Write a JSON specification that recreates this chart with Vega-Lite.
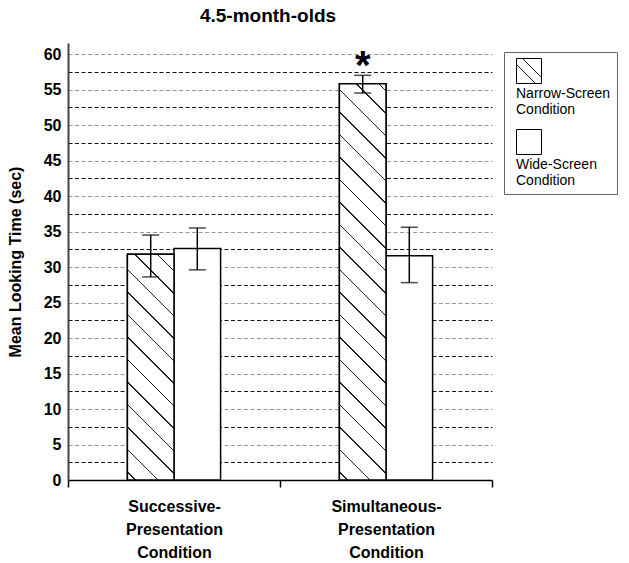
{
  "$schema": "https://vega.github.io/schema/vega-lite/v6.json",
  "width": 424,
  "height": 437,
  "autosize": {"type": "none"},
  "padding": {"left": 68, "top": 43, "right": 137, "bottom": 83},
  "title": {"text": "4.5-month-olds", "fontSize": 19, "fontWeight": "bold", "font": "Liberation Sans", "color": "black", "frame": "group", "anchor": "middle", "dx": -12, "offset": 17},
  "config": {"view": {"stroke": null}, "font": "Liberation Sans"},
  "data": {"values": [
    {"cond": "Successive-Presentation Condition", "screen": "Narrow-Screen Condition", "mean": 31.8, "lo": 28.6, "hi": 34.5},
    {"cond": "Successive-Presentation Condition", "screen": "Wide-Screen Condition", "mean": 32.6, "lo": 29.6, "hi": 35.5},
    {"cond": "Simultaneous-Presentation Condition", "screen": "Narrow-Screen Condition", "mean": 55.8, "lo": 54.5, "hi": 57.0, "sig": "*"},
    {"cond": "Simultaneous-Presentation Condition", "screen": "Wide-Screen Condition", "mean": 31.6, "lo": 27.8, "hi": 35.6}
  ]},
  "encoding": {
    "x": {"field": "cond", "type": "nominal", "title": null,
      "scale": {"domain": ["Successive-Presentation Condition", "Simultaneous-Presentation Condition"], "paddingInner": 0, "paddingOuter": 0},
      "axis": {"labelAngle": 0, "tickBand": "extent", "tickSize": 7, "tickWidth": 1.5, "tickColor": "black", "domainColor": "black", "domainWidth": 1.5, "labelFontSize": 16, "labelFontWeight": "bold", "labelColor": "black", "labelLineHeight": 23, "labelPadding": 11, "labelLimit": 300, "grid": false,
        "labelExpr": "split(replace(replace(datum.label, '-', '-|'), ' ', '|'), '|')"}},
    "xOffset": {"field": "screen", "type": "nominal",
      "scale": {"domain": ["_left", "Narrow-Screen Condition", "Wide-Screen Condition", "_right"], "paddingInner": 0, "paddingOuter": 0.275}}
  },
  "layer": [
    {
      "mark": {"type": "bar", "stroke": "black", "strokeWidth": 1.5},
      "encoding": {
        "y": {"field": "mean", "type": "quantitative", "title": "Mean Looking Time (sec)", "scale": {"domain": [0, 61.55], "nice": false},
          "axis": {"values": [0, 2.5, 5, 7.5, 10, 12.5, 15, 17.5, 20, 22.5, 25, 27.5, 30, 32.5, 35, 37.5, 40, 42.5, 45, 47.5, 50, 52.5, 55, 57.5, 60],
            "labelExpr": "datum.value % 5 === 0 ? datum.label : ''", "labelOverlap": false,
            "labelFontSize": 16, "labelFontWeight": "bold", "labelColor": "black", "tickSize": 0, "labelPadding": 7,
            "domainColor": "#444", "domainWidth": 2,
            "titleFontSize": 16, "titleFontWeight": "bold", "titleColor": "black", "titlePadding": 20,
            "grid": true, "gridDash": [4, 2.5], "gridWidth": 1,
            "gridColor": {"condition": {"test": "datum.value % 5 === 0", "value": "#999999"}, "value": "#111111"}}},
        "fill": {"field": "screen", "type": "nominal",
          "scale": {"domain": ["Narrow-Screen Condition", "Wide-Screen Condition"],
            "range": [
              {"expr": "{gradient: 'linear', x1: 0, y1: 1, x2: 1, y2: 0, stops: [{offset: 0, color: 'white'}, {offset: 0.366, color: 'white'}, {offset: 0.366, color: '#222'}, {offset: 0.394, color: '#222'}, {offset: 0.394, color: 'white'}, {offset: 0.606, color: 'white'}, {offset: 0.606, color: '#222'}, {offset: 0.634, color: '#222'}, {offset: 0.634, color: 'white'}, {offset: 1, color: 'white'}]}"},
              "white"]},
          "legend": {"title": null, "orient": "none", "legendX": 436, "legendY": 9, "strokeColor": "#666", "fillColor": "white", "padding": 6, "symbolOffset": 6,
            "symbolType": "square", "symbolSize": 625, "symbolStrokeColor": "black", "symbolStrokeWidth": 1, "rowPadding": 10,
            "labelFont": "Liberation Sans", "labelFontSize": 14, "labelColor": "black", "labelBaseline": "top", "labelAlign": "left", "labelOffset": -26, "labelLimit": 200,
            "labelExpr": "['', split(datum.label, ' ')[0], split(datum.label, ' ')[1]]",
            "encode": {"symbols": {"update": {
              "opacity": {"value": 1},
              "stroke": {"value": "black"},
              "strokeWidth": {"value": 1}}}}}}
      }
    },
    {
      "transform": [{"filter": "datum.cond === 'Successive-Presentation Condition' && datum.screen === 'Narrow-Screen Condition'"}],
      "mark": {"type": "bar", "stroke": "black", "strokeWidth": 1.5,
        "fill": {"gradient": "linear", "x1": 0, "y1": 1, "x2": 0.2388, "y2": -0.1573, "stops": [
          {"offset": 0, "color": "white"},
          {"offset": 0.0264, "color": "white"}, {"offset": 0.0264, "color": "#222"}, {"offset": 0.0323, "color": "#222"}, {"offset": 0.0323, "color": "white"},
          {"offset": 0.1090, "color": "white"}, {"offset": 0.1090, "color": "#222"}, {"offset": 0.1149, "color": "#222"}, {"offset": 0.1149, "color": "white"},
          {"offset": 0.1916, "color": "white"}, {"offset": 0.1916, "color": "#222"}, {"offset": 0.1975, "color": "#222"}, {"offset": 0.1975, "color": "white"},
          {"offset": 0.2742, "color": "white"}, {"offset": 0.2742, "color": "#222"}, {"offset": 0.2801, "color": "#222"}, {"offset": 0.2801, "color": "white"},
          {"offset": 0.3568, "color": "white"}, {"offset": 0.3568, "color": "#222"}, {"offset": 0.3627, "color": "#222"}, {"offset": 0.3627, "color": "white"},
          {"offset": 0.4394, "color": "white"}, {"offset": 0.4394, "color": "#222"}, {"offset": 0.4453, "color": "#222"}, {"offset": 0.4453, "color": "white"},
          {"offset": 0.5220, "color": "white"}, {"offset": 0.5220, "color": "#222"}, {"offset": 0.5279, "color": "#222"}, {"offset": 0.5279, "color": "white"},
          {"offset": 0.6046, "color": "white"}, {"offset": 0.6046, "color": "#222"}, {"offset": 0.6105, "color": "#222"}, {"offset": 0.6105, "color": "white"},
          {"offset": 0.6872, "color": "white"}, {"offset": 0.6872, "color": "#222"}, {"offset": 0.6931, "color": "#222"}, {"offset": 0.6931, "color": "white"},
          {"offset": 0.7698, "color": "white"}, {"offset": 0.7698, "color": "#222"}, {"offset": 0.7757, "color": "#222"}, {"offset": 0.7757, "color": "white"},
          {"offset": 0.8524, "color": "white"}, {"offset": 0.8524, "color": "#222"}, {"offset": 0.8583, "color": "#222"}, {"offset": 0.8583, "color": "white"},
          {"offset": 0.9350, "color": "white"}, {"offset": 0.9350, "color": "#222"}, {"offset": 0.9409, "color": "#222"}, {"offset": 0.9409, "color": "white"},
          {"offset": 1, "color": "white"}]}},
      "encoding": {"y": {"field": "mean", "type": "quantitative", "title": "Mean Looking Time (sec)", "scale": {"domain": [0, 61.55], "nice": false},
          "axis": {"values": [0, 2.5, 5, 7.5, 10, 12.5, 15, 17.5, 20, 22.5, 25, 27.5, 30, 32.5, 35, 37.5, 40, 42.5, 45, 47.5, 50, 52.5, 55, 57.5, 60],
            "labelExpr": "datum.value % 5 === 0 ? datum.label : ''", "labelOverlap": false,
            "labelFontSize": 16, "labelFontWeight": "bold", "labelColor": "black", "tickSize": 0, "labelPadding": 7,
            "domainColor": "#444", "domainWidth": 2,
            "titleFontSize": 16, "titleFontWeight": "bold", "titleColor": "black", "titlePadding": 20,
            "grid": true, "gridDash": [4, 2.5], "gridWidth": 1,
            "gridColor": {"condition": {"test": "datum.value % 5 === 0", "value": "#999999"}, "value": "#111111"}}}}
    },
    {
      "transform": [{"filter": "datum.cond === 'Simultaneous-Presentation Condition' && datum.screen === 'Narrow-Screen Condition'"}],
      "mark": {"type": "bar", "stroke": "black", "strokeWidth": 1.5,
        "fill": {"gradient": "linear", "x1": 0, "y1": 1, "x2": 0.12966, "y2": -0.10238, "stops": [
          {"offset": 0, "color": "white"},
          {"offset": 0.0163, "color": "white"}, {"offset": 0.0163, "color": "#222"}, {"offset": 0.0199, "color": "#222"}, {"offset": 0.0199, "color": "white"},
          {"offset": 0.0671, "color": "white"}, {"offset": 0.0671, "color": "#222"}, {"offset": 0.0707, "color": "#222"}, {"offset": 0.0707, "color": "white"},
          {"offset": 0.1179, "color": "white"}, {"offset": 0.1179, "color": "#222"}, {"offset": 0.1215, "color": "#222"}, {"offset": 0.1215, "color": "white"},
          {"offset": 0.1687, "color": "white"}, {"offset": 0.1687, "color": "#222"}, {"offset": 0.1723, "color": "#222"}, {"offset": 0.1723, "color": "white"},
          {"offset": 0.2195, "color": "white"}, {"offset": 0.2195, "color": "#222"}, {"offset": 0.2231, "color": "#222"}, {"offset": 0.2231, "color": "white"},
          {"offset": 0.2703, "color": "white"}, {"offset": 0.2703, "color": "#222"}, {"offset": 0.2739, "color": "#222"}, {"offset": 0.2739, "color": "white"},
          {"offset": 0.3212, "color": "white"}, {"offset": 0.3212, "color": "#222"}, {"offset": 0.3248, "color": "#222"}, {"offset": 0.3248, "color": "white"},
          {"offset": 0.3720, "color": "white"}, {"offset": 0.3720, "color": "#222"}, {"offset": 0.3756, "color": "#222"}, {"offset": 0.3756, "color": "white"},
          {"offset": 0.4228, "color": "white"}, {"offset": 0.4228, "color": "#222"}, {"offset": 0.4264, "color": "#222"}, {"offset": 0.4264, "color": "white"},
          {"offset": 0.4736, "color": "white"}, {"offset": 0.4736, "color": "#222"}, {"offset": 0.4772, "color": "#222"}, {"offset": 0.4772, "color": "white"},
          {"offset": 0.5244, "color": "white"}, {"offset": 0.5244, "color": "#222"}, {"offset": 0.5280, "color": "#222"}, {"offset": 0.5280, "color": "white"},
          {"offset": 0.5752, "color": "white"}, {"offset": 0.5752, "color": "#222"}, {"offset": 0.5788, "color": "#222"}, {"offset": 0.5788, "color": "white"},
          {"offset": 0.6260, "color": "white"}, {"offset": 0.6260, "color": "#222"}, {"offset": 0.6296, "color": "#222"}, {"offset": 0.6296, "color": "white"},
          {"offset": 0.6769, "color": "white"}, {"offset": 0.6769, "color": "#222"}, {"offset": 0.6805, "color": "#222"}, {"offset": 0.6805, "color": "white"},
          {"offset": 0.7277, "color": "white"}, {"offset": 0.7277, "color": "#222"}, {"offset": 0.7313, "color": "#222"}, {"offset": 0.7313, "color": "white"},
          {"offset": 0.7785, "color": "white"}, {"offset": 0.7785, "color": "#222"}, {"offset": 0.7821, "color": "#222"}, {"offset": 0.7821, "color": "white"},
          {"offset": 0.8293, "color": "white"}, {"offset": 0.8293, "color": "#222"}, {"offset": 0.8329, "color": "#222"}, {"offset": 0.8329, "color": "white"},
          {"offset": 0.8801, "color": "white"}, {"offset": 0.8801, "color": "#222"}, {"offset": 0.8837, "color": "#222"}, {"offset": 0.8837, "color": "white"},
          {"offset": 0.9309, "color": "white"}, {"offset": 0.9309, "color": "#222"}, {"offset": 0.9345, "color": "#222"}, {"offset": 0.9345, "color": "white"},
          {"offset": 0.9817, "color": "white"}, {"offset": 0.9817, "color": "#222"}, {"offset": 0.9853, "color": "#222"}, {"offset": 0.9853, "color": "white"},
          {"offset": 1, "color": "white"}]}},
      "encoding": {"y": {"field": "mean", "type": "quantitative", "title": "Mean Looking Time (sec)", "scale": {"domain": [0, 61.55], "nice": false},
          "axis": {"values": [0, 2.5, 5, 7.5, 10, 12.5, 15, 17.5, 20, 22.5, 25, 27.5, 30, 32.5, 35, 37.5, 40, 42.5, 45, 47.5, 50, 52.5, 55, 57.5, 60],
            "labelExpr": "datum.value % 5 === 0 ? datum.label : ''", "labelOverlap": false,
            "labelFontSize": 16, "labelFontWeight": "bold", "labelColor": "black", "tickSize": 0, "labelPadding": 7,
            "domainColor": "#444", "domainWidth": 2,
            "titleFontSize": 16, "titleFontWeight": "bold", "titleColor": "black", "titlePadding": 20,
            "grid": true, "gridDash": [4, 2.5], "gridWidth": 1,
            "gridColor": {"condition": {"test": "datum.value % 5 === 0", "value": "#999999"}, "value": "#111111"}}}}
    },
    {
      "mark": {"type": "rule", "strokeWidth": 1.5, "color": "black"},
      "encoding": {"y": {"field": "lo", "type": "quantitative", "title": "Mean Looking Time (sec)", "scale": {"domain": [0, 61.55], "nice": false},
          "axis": {"values": [0, 2.5, 5, 7.5, 10, 12.5, 15, 17.5, 20, 22.5, 25, 27.5, 30, 32.5, 35, 37.5, 40, 42.5, 45, 47.5, 50, 52.5, 55, 57.5, 60],
            "labelExpr": "datum.value % 5 === 0 ? datum.label : ''", "labelOverlap": false,
            "labelFontSize": 16, "labelFontWeight": "bold", "labelColor": "black", "tickSize": 0, "labelPadding": 7,
            "domainColor": "#444", "domainWidth": 2,
            "titleFontSize": 16, "titleFontWeight": "bold", "titleColor": "black", "titlePadding": 20,
            "grid": true, "gridDash": [4, 2.5], "gridWidth": 1,
            "gridColor": {"condition": {"test": "datum.value % 5 === 0", "value": "#999999"}, "value": "#111111"}}},
        "y2": {"field": "hi"}}
    },
    {
      "mark": {"type": "tick", "orient": "horizontal", "size": 17, "thickness": 1.5, "color": "black"},
      "encoding": {"y": {"field": "lo", "type": "quantitative", "title": "Mean Looking Time (sec)", "scale": {"domain": [0, 61.55], "nice": false},
          "axis": {"values": [0, 2.5, 5, 7.5, 10, 12.5, 15, 17.5, 20, 22.5, 25, 27.5, 30, 32.5, 35, 37.5, 40, 42.5, 45, 47.5, 50, 52.5, 55, 57.5, 60],
            "labelExpr": "datum.value % 5 === 0 ? datum.label : ''", "labelOverlap": false,
            "labelFontSize": 16, "labelFontWeight": "bold", "labelColor": "black", "tickSize": 0, "labelPadding": 7,
            "domainColor": "#444", "domainWidth": 2,
            "titleFontSize": 16, "titleFontWeight": "bold", "titleColor": "black", "titlePadding": 20,
            "grid": true, "gridDash": [4, 2.5], "gridWidth": 1,
            "gridColor": {"condition": {"test": "datum.value % 5 === 0", "value": "#999999"}, "value": "#111111"}}}}
    },
    {
      "mark": {"type": "tick", "orient": "horizontal", "size": 17, "thickness": 1.5, "color": "black"},
      "encoding": {"y": {"field": "hi", "type": "quantitative", "title": "Mean Looking Time (sec)", "scale": {"domain": [0, 61.55], "nice": false},
          "axis": {"values": [0, 2.5, 5, 7.5, 10, 12.5, 15, 17.5, 20, 22.5, 25, 27.5, 30, 32.5, 35, 37.5, 40, 42.5, 45, 47.5, 50, 52.5, 55, 57.5, 60],
            "labelExpr": "datum.value % 5 === 0 ? datum.label : ''", "labelOverlap": false,
            "labelFontSize": 16, "labelFontWeight": "bold", "labelColor": "black", "tickSize": 0, "labelPadding": 7,
            "domainColor": "#444", "domainWidth": 2,
            "titleFontSize": 16, "titleFontWeight": "bold", "titleColor": "black", "titlePadding": 20,
            "grid": true, "gridDash": [4, 2.5], "gridWidth": 1,
            "gridColor": {"condition": {"test": "datum.value % 5 === 0", "value": "#999999"}, "value": "#111111"}}}}
    },
    {
      "transform": [{"filter": "datum.sig != null"}],
      "mark": {"type": "text", "fontSize": 40, "fontWeight": "bold", "baseline": "alphabetic", "align": "center", "dy": 4, "color": "black"},
      "encoding": {"y": {"field": "hi", "type": "quantitative", "title": "Mean Looking Time (sec)", "scale": {"domain": [0, 61.55], "nice": false},
          "axis": {"values": [0, 2.5, 5, 7.5, 10, 12.5, 15, 17.5, 20, 22.5, 25, 27.5, 30, 32.5, 35, 37.5, 40, 42.5, 45, 47.5, 50, 52.5, 55, 57.5, 60],
            "labelExpr": "datum.value % 5 === 0 ? datum.label : ''", "labelOverlap": false,
            "labelFontSize": 16, "labelFontWeight": "bold", "labelColor": "black", "tickSize": 0, "labelPadding": 7,
            "domainColor": "#444", "domainWidth": 2,
            "titleFontSize": 16, "titleFontWeight": "bold", "titleColor": "black", "titlePadding": 20,
            "grid": true, "gridDash": [4, 2.5], "gridWidth": 1,
            "gridColor": {"condition": {"test": "datum.value % 5 === 0", "value": "#999999"}, "value": "#111111"}}},
        "text": {"field": "sig"}}
    }
  ]
}
